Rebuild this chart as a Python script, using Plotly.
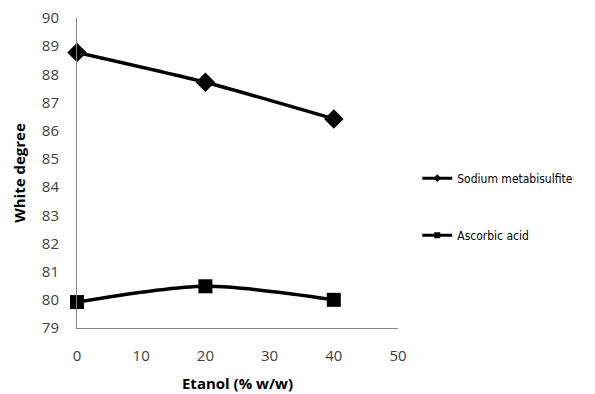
import plotly.graph_objects as go

etanol = [0, 20, 40]
sodium_metabisulfite = [88.78, 87.72, 86.42]
ascorbic_acid = [79.92, 80.48, 80.0]
x_ticks = [0, 10, 20, 30, 40, 50]
y_ticks = [79, 80, 81, 82, 83, 84, 85, 86, 87, 88, 89, 90]
series_names = ["Sodium metabisulfite", "Ascorbic acid"]

fig = go.Figure()
fig.add_trace(go.Scatter(
    x=etanol, y=sodium_metabisulfite, name=series_names[0], showlegend=False,
    mode="lines+markers", line=dict(color="black", width=3.5, shape="spline", smoothing=0.6),
    marker=dict(symbol="diamond", size=15, color="black")))
fig.add_trace(go.Scatter(
    x=etanol, y=ascorbic_acid, name=series_names[1], showlegend=False,
    mode="lines+markers", line=dict(color="black", width=3.5, shape="spline", smoothing=0.8),
    marker=dict(symbol="square", size=14, color="black")))
# legend entries (small markers like the original)
fig.add_trace(go.Scatter(x=[None], y=[None], name=series_names[0], mode="lines+markers",
                         line=dict(color="black", width=3), marker=dict(symbol="diamond", size=6, color="black"),
                         legendgroup="a"))
fig.add_trace(go.Scatter(x=[None], y=[None], name=series_names[1], mode="lines+markers",
                         line=dict(color="black", width=3), marker=dict(symbol="square", size=6, color="black"),
                         legendgroup="b"))

leg_font = "DejaVu Sans Condensed, Liberation Sans Narrow, sans-serif"
tick_font = "Open Sans, sans-serif"
fig.update_layout(
    width=595, height=394,
    margin=dict(l=77, r=197, t=18, b=66, autoexpand=False),
    plot_bgcolor="white", paper_bgcolor="white",
    showlegend=True,
    legend=dict(x=1.06, y=0.53, xanchor="left", yanchor="top",
                font=dict(family=leg_font, size=12, color="black"),
                tracegroupgap=38, bgcolor="rgba(0,0,0,0)"),
    xaxis=dict(range=[0, 50], tickvals=x_ticks, showgrid=False, zeroline=False,
               showline=True, linecolor="#868686", linewidth=1, automargin=False,
               ticks="", ticklabelstandoff=14,
               tickfont=dict(family=tick_font, size=15, color="#404040"),
               title=dict(text="<b>Etanol (% w/w)</b>", standoff=14,
                          font=dict(family="Open Sans, sans-serif", size=15, color="black"))),
    yaxis=dict(range=[79, 90], tickvals=y_ticks, showgrid=False, zeroline=False,
               showline=True, linecolor="#868686", linewidth=1, automargin=False,
               ticks="", ticklabelstandoff=14,
               tickfont=dict(family=tick_font, size=15, color="#404040"),
               title=dict(text="<b>White degree</b>", standoff=12,
                          font=dict(family="Open Sans, sans-serif", size=15, color="black"))),
)
fig.update_traces(cliponaxis=False)
fig.write_html("out.html")
